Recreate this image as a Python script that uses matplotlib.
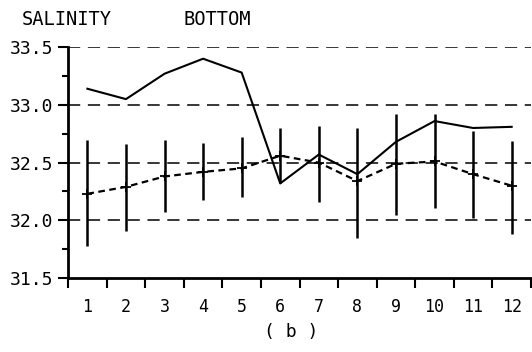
import numpy as np
import matplotlib
matplotlib.use("Agg")
import matplotlib.pyplot as plt

months = np.arange(1, 13)
month_labels = [str(m) for m in months]
bottom_salinity = [33.14, 33.05, 33.27, 33.40, 33.28, 32.32, 32.57, 32.40, 32.68, 32.86, 32.80, 32.81]
mean_salinity = [32.23, 32.29, 32.38, 32.42, 32.45, 32.56, 32.50, 32.34, 32.49, 32.51, 32.40, 32.30]
bar_low = [31.78, 31.91, 32.07, 32.18, 32.20, 32.32, 32.16, 31.85, 32.05, 32.11, 32.02, 31.88]
bar_high = [32.70, 32.66, 32.70, 32.67, 32.72, 32.80, 32.82, 32.80, 32.92, 32.92, 32.77, 32.69]
y_ticks = [31.5, 32.0, 32.5, 33.0, 33.5]

mono = ['DejaVu Sans Mono']
plt.rcParams['font.family'] = mono
fig = plt.figure(figsize=(5.32, 3.52), dpi=100)
ax = fig.add_axes([0.128, 0.21, 0.870, 0.656])

# grid lines
for yv in y_ticks[1:]:
    ax.axhline(yv, color='black', lw=1.1, ls=(0, (8, 5)), zorder=1)

# error bars
ax.vlines(months, bar_low, bar_high, color='black', lw=1.8, zorder=3)
# mean dashed line
ax.plot(months, mean_salinity, color='black', lw=1.6, ls=(0, (3, 2)),
        marker='+', ms=7, mew=1.3, zorder=4)
# bottom salinity solid line
ax.plot(months, bottom_salinity, color='black', lw=1.5, zorder=5)

ax.set_xlim(0.5, 12.5)
ax.set_ylim(31.5, 33.5)
ax.set_xticks(np.arange(0.5, 13, 1.0))
ax.set_xticklabels([])
ax.set_xticks(months, minor=True)
ax.set_xticklabels(month_labels, minor=True, fontsize=12)
ax.tick_params(axis='x', which='major', direction='out', length=7, width=1.5)
ax.tick_params(axis='x', which='minor', length=0, pad=14)

ax.set_yticks(y_ticks)
ax.set_yticklabels([f"{v:.1f}" for v in y_ticks], fontsize=13)
ax.set_yticks(np.arange(31.75, 33.5, 0.5), minor=True)
ax.tick_params(axis='y', which='major', direction='out', length=7, width=1.5, pad=4)
ax.tick_params(axis='y', which='minor', direction='out', length=4, width=1.5)

for s in ['top', 'right']:
    ax.spines[s].set_visible(False)
ax.spines['left'].set_linewidth(2)
ax.spines['bottom'].set_linewidth(2)

fig.text(0.041, 0.946, "SALINITY", fontsize=13.5, va='center', ha='left')
fig.text(0.344, 0.946, "BOTTOM", fontsize=13.5, va='center', ha='left')
fig.text(0.548, 0.057, "( b )", fontsize=13, va='center', ha='center')

fig.savefig("out.png", dpi=100)
